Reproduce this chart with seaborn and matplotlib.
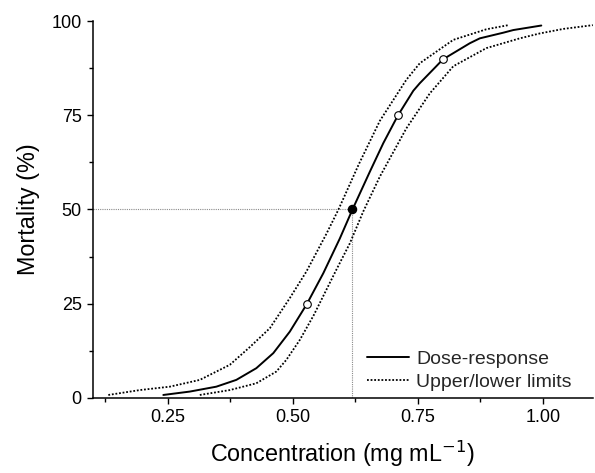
import matplotlib

matplotlib.use("Agg")
import matplotlib.pyplot as plt
import pandas as pd
import seaborn as sns
from matplotlib.ticker import MultipleLocator

# values
dose_x = [0.241, 0.294, 0.347, 0.387, 0.427, 0.461, 0.494, 0.528, 0.561, 0.594,
          0.619, 0.654, 0.681, 0.710, 0.741, 0.754, 0.787, 0.800, 0.854, 0.874,
          0.921, 0.941, 0.997]
dose_y = [0.8, 1.7, 3.0, 4.8, 7.9, 11.9, 17.6, 24.9, 33.1, 42.3,
          49.9, 60.0, 67.6, 74.9, 81.5, 83.5, 88.0, 89.8, 94.1, 95.4,
          96.9, 97.6, 98.8]

upper_x = [0.131, 0.194, 0.254, 0.314, 0.374, 0.414, 0.454, 0.474, 0.494, 0.527,
           0.567, 0.591, 0.632, 0.674, 0.727, 0.754, 0.821, 0.887, 0.931]
upper_y = [0.8, 2.1, 3.0, 4.8, 8.8, 13.5, 18.5, 22.5, 26.5, 33.5,
           43.5, 49.9, 62.0, 73.5, 84.4, 88.8, 95.0, 97.8, 98.9]

lower_x = [0.314, 0.374, 0.427, 0.467, 0.487, 0.514, 0.542, 0.587, 0.614, 0.641,
           0.674, 0.727, 0.774, 0.821, 0.887, 0.954, 0.994, 1.041, 1.100]
lower_y = [0.8, 2.1, 3.9, 7.0, 10.1, 15.4, 22.0, 34.0, 41.0, 49.5,
           58.7, 71.5, 80.8, 88.0, 92.8, 95.4, 96.7, 97.9, 98.9]

lc_x = [0.528, 0.710, 0.800]
lc_y = [25, 75, 90]
lc50_x = 0.619
lc50_y = 50

sns.set_theme(style="ticks")
plt.rcParams["font.family"] = ["Liberation Sans", "DejaVu Sans"]

dose = pd.DataFrame({"x": dose_x, "y": dose_y})
upper = pd.DataFrame({"x": upper_x, "y": upper_y})
lower = pd.DataFrame({"x": lower_x, "y": lower_y})
points = pd.DataFrame({"x": lc_x, "y": lc_y})

fig = plt.figure(figsize=(5.95, 4.73), dpi=100)
ax = fig.add_axes([0.156, 0.1586, 0.8403, 0.797])

# LC50 guide lines
guide = dict(color="#8a8a8a", lw=0.8, ls=(0, (1, 1)), zorder=1)
ax.plot([0.1, lc50_x], [lc50_y, lc50_y], **guide)
ax.plot([lc50_x, lc50_x], [0, lc50_y], **guide)

dotted = (0, (1, 1))
sns.lineplot(data=dose, x="x", y="y", color="black", lw=1.4, sort=False,
             estimator=None, label="Dose-response", ax=ax)
sns.lineplot(data=upper, x="x", y="y", color="black", lw=1.3, linestyle=dotted,
             sort=False, estimator=None, label="Upper/lower limits", ax=ax)
sns.lineplot(data=lower, x="x", y="y", color="black", lw=1.3, linestyle=dotted,
             sort=False, estimator=None, label="_nolegend_", ax=ax)
sns.scatterplot(data=points, x="x", y="y", s=30, color="white", edgecolor="black",
                linewidth=0.8, zorder=5, ax=ax)
ax.scatter([lc50_x], [lc50_y], s=34, color="black", zorder=6)

ax.set_xlim(0.1, 1.1)
ax.set_ylim(0, 100)
ax.set_xticks([0.25, 0.5, 0.75, 1.0])
ax.set_xticklabels(["0.25", "0.50", "0.75", "1.00"])
ax.xaxis.set_minor_locator(MultipleLocator(0.125))
ax.yaxis.set_major_locator(MultipleLocator(25))
ax.yaxis.set_minor_locator(MultipleLocator(12.5))
ax.tick_params(which="major", direction="out", length=4.5, width=1.0, labelsize=13,
               color="black", labelcolor="black")
ax.tick_params(which="minor", direction="out", length=3, width=1.0, color="black")
for side in ("left", "bottom"):
    ax.spines[side].set_linewidth(1.1)
    ax.spines[side].set_color("black")
sns.despine(ax=ax)

ax.set_xlabel("Concentration (mg mL$^{-1}$)", fontsize=16.8, color="black", labelpad=9)
ax.set_ylabel("Mortality (%)", fontsize=16.8, color="black", labelpad=8)

ax.legend(loc="lower left", bbox_to_anchor=(0.54, 0.008), frameon=False, fontsize=14,
          handlelength=2.2, handletextpad=0.35, labelspacing=0.3, borderpad=0.2,
          borderaxespad=0.0)

fig.savefig("out.png", dpi=100, facecolor="white")
plt.close(fig)
